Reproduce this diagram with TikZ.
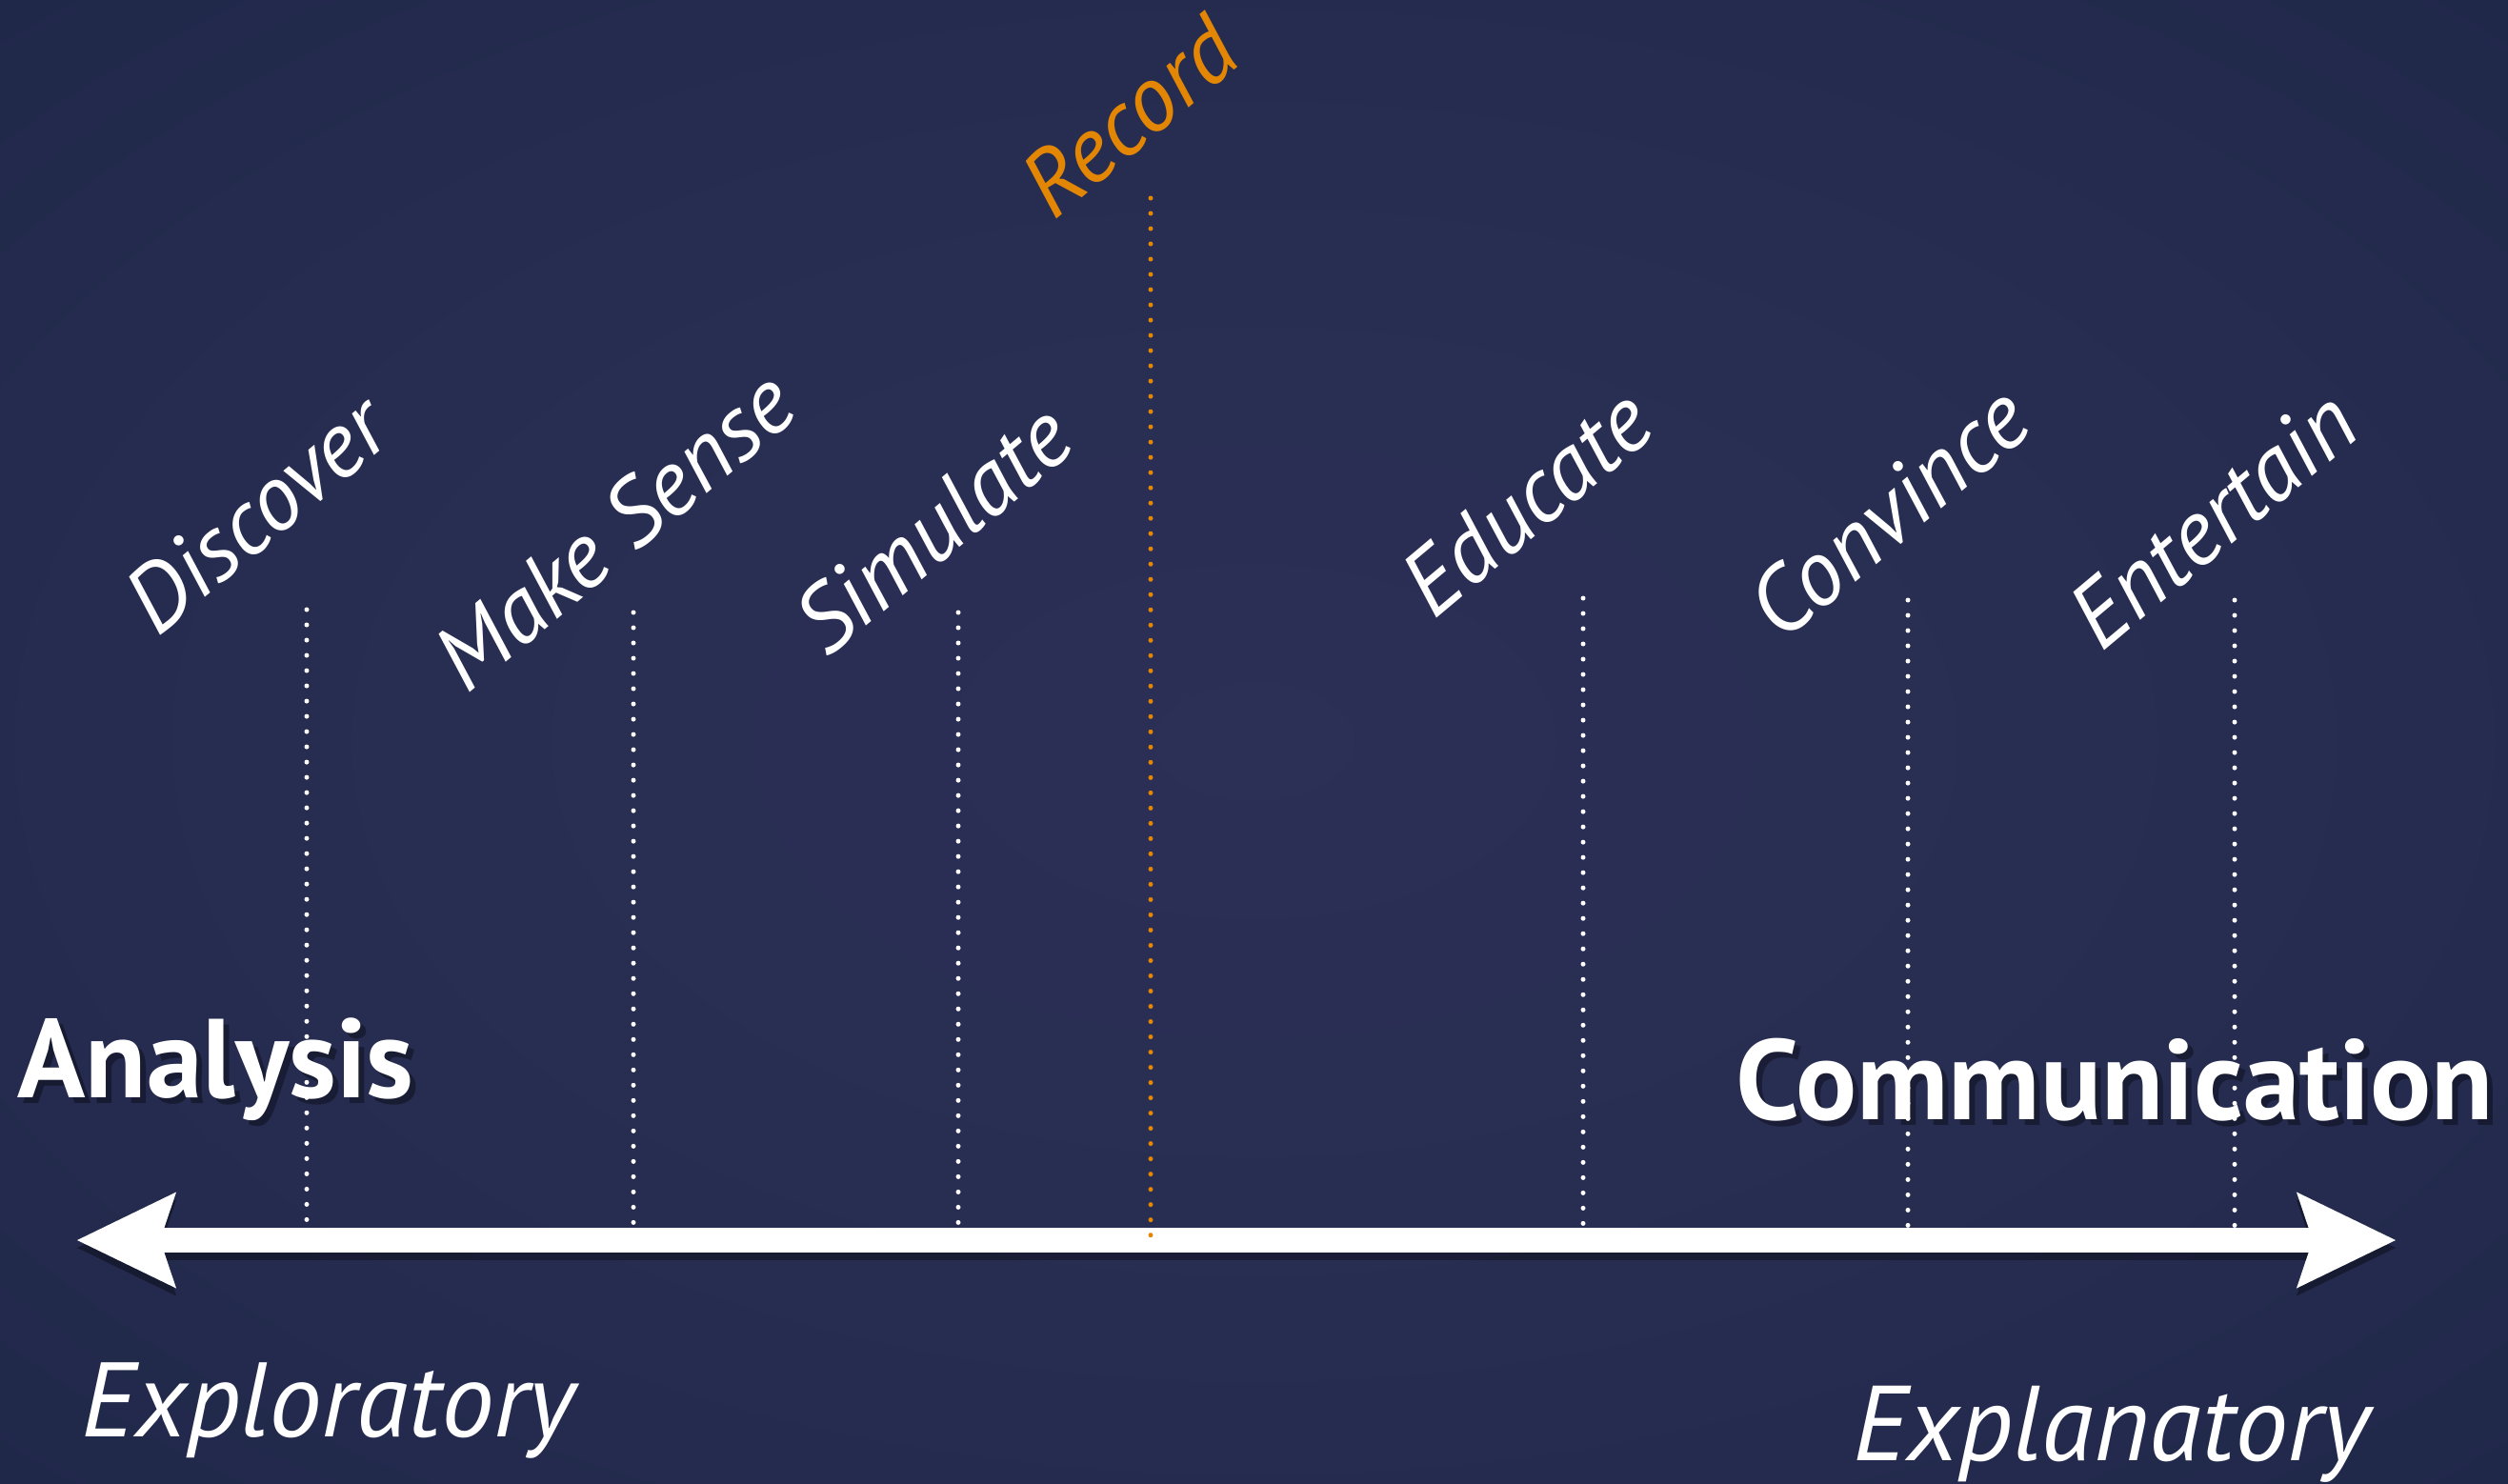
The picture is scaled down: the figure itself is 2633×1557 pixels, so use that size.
\documentclass[tikz,border=0pt]{standalone}
\usepackage{fontspec}
\setmainfont{PT Sans}
\usetikzlibrary{arrows.meta}
\definecolor{bgA}{RGB}{44,47,86}
\definecolor{bgB}{RGB}{39,45,81}
\definecolor{bgC}{RGB}{29,38,71}
\definecolor{bgD}{RGB}{14,19,40}
\definecolor{recc}{RGB}{226,134,4}
\pgfdeclareradialshading{bgshade}{\pgfpoint{0bp}{0bp}}{color(0bp)=(bgA); color(20bp)=(bgB); color(42bp)=(bgC); color(72bp)=(bgD)}
\begin{document}
\begin{tikzpicture}[x=0.01cm,y=-0.01cm,
  lbl/.style={rotate=40, anchor=base west, inner sep=0pt, text=white,
    font=\itshape\fontsize{27.5}{30}\selectfont},
  big/.style={anchor=base west, inner sep=0pt, text=white},
  dotline/.style={white, line width=0.05cm, line cap=round, dash pattern=on 0pt off 0.16cm},
  axisarrow/.style={line width=0.26cm,
    {Stealth[length=1.04cm, width=1.01cm, inset=0.17cm, line width=0pt]}-{Stealth[length=1.04cm, width=1.01cm, inset=0.17cm, line width=0pt]}}
  ]
\useasboundingbox (0,0) rectangle (2633,1557);
\shade[shading=bgshade] (0,0) rectangle (2633,1557);

% axis
\coordinate (L) at (81,1302);
\coordinate (R) at (2515,1302);
\draw[axisarrow, black, opacity=0.35] ([yshift=-0.08cm]L) -- ([yshift=-0.08cm]R);
\draw[axisarrow, white] (L) -- (R);

% big words (with soft shadow)
\node[big, text=black, opacity=0.35, font=\bfseries\fontsize{33.5}{38}\selectfont] at (24,1158) {Analysis};
\node[big, text=black, opacity=0.35, font=\bfseries\fontsize{34}{38}\selectfont] at (1828,1181) {Communication};
\node[big, font=\bfseries\fontsize{33.5}{38}\selectfont] (ana) at (18,1152) {Analysis};
\node[big, font=\bfseries\fontsize{34}{38}\selectfont] (com) at (1822,1175) {Communication};
\node[big, font=\itshape\fontsize{31.6}{36}\selectfont] (exo) at (85,1508) {Exploratory};
\node[big, font=\itshape\fontsize{31.8}{36}\selectfont] (exa) at (1945,1533) {Explanatory};

% labels
\node[lbl] (disc) at (165,670) {Discover};
\node[lbl] (mks) at (490,730) {Make Sense};
\node[lbl] (sim) at (868,692) {Simulate};
\node[lbl, text=recc] (rec) at (1106,233) {Record};
\node[lbl] (edu) at (1505,652) {Educate};
\node[lbl] (conv) at (1870,676) {Convince};
\node[lbl] (ent) at (2206,686) {Entertain};

% dotted leaders
\coordinate (t1) at (322,640);
\coordinate (t2) at (665,643);
\coordinate (t3) at (1006,643);
\coordinate (t4) at (1208,208);
\coordinate (t5) at (1662,628);
\coordinate (t6) at (2003,630);
\coordinate (t7) at (2346,630);
\foreach \i in {1,2,3,5,6,7} {
  \draw[dotline] (t\i) -- (t\i |- L);
}
\draw[dotline, recc] (t4) -- (t4 |- L);
\end{tikzpicture}
\end{document}
